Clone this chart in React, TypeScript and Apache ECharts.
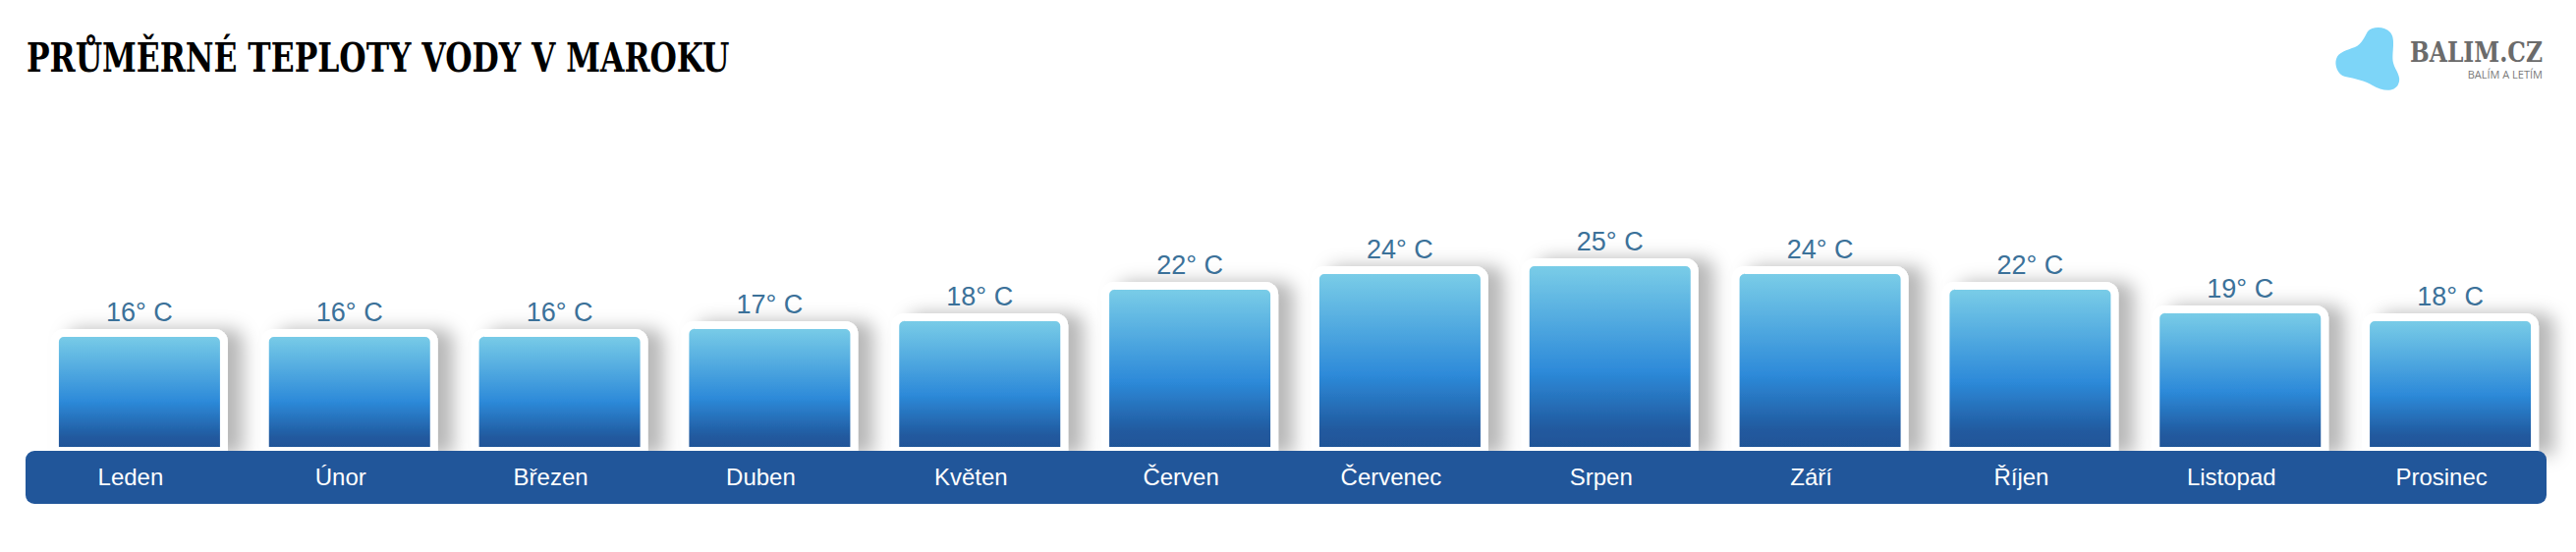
import React, { useEffect, useRef } from "react";
import * as echarts from "echarts";

// Average sea water temperature by month (°C)
const months = ["Leden", "Únor", "Březen", "Duben", "Květen", "Červen", "Červenec", "Srpen", "Září", "Říjen", "Listopad", "Prosinec"];
const temps = [16, 16, 16, 17, 18, 22, 24, 25, 24, 22, 19, 18];

const titleText = "PRŮMĚRNÉ TEPLOTY VODY V MAROKU";
const brandText = "BALIM.CZ";
const brandSub = "BALÍM A LETÍM";

// Brand blob mark
const blobPath =
  "M 33 4 C 37 -1, 50 -2, 56 5 C 62 12, 57 26, 59 36 C 61 44, 68 50, 64 58 " +
  "C 60 66, 48 65, 38 59 C 30 54, 20 52, 10 50 C 2 48, -1 38, 1 32 " +
  "C 3 25, 12 23, 20 20 C 27 17, 30 9, 33 4 Z";
echarts.graphic.registerShape("logo", (echarts.graphic as any).extendPath(blobPath, {}));

function measure(text: string, font: string): number {
  const ctx = document.createElement("canvas").getContext("2d");
  if (!ctx) return 0;
  ctx.font = font;
  return ctx.measureText(text).width;
}

export default function App() {
  const ref = useRef<HTMLDivElement>(null);

  useEffect(() => {
    document.body.style.margin = "0";
    if (!ref.current) return;
    const chart = echarts.init(ref.current, null, { renderer: "svg" });

    const titleFont = 'bold 41px "DejaVu Serif"';
    const titleW = measure(titleText, titleFont) || 716;
    const brandFont = 'bold 27px "DejaVu Serif"';
    const brandW = measure(brandText, brandFont) || 135;

    chart.setOption({
      animation: false,
      backgroundColor: "#ffffff",
      grid: { left: 35, right: 21, top: 63, bottom: 99 },
      xAxis: {
        type: "category",
        data: months,
        z: 20,
        axisLine: { show: false },
        axisTick: { show: false },
        axisLabel: {
          color: "#ffffff",
          fontSize: 24,
          fontFamily: "Liberation Sans, Arial, sans-serif",
          margin: 10,
          padding: [0, 18, 0, 0],
        },
      },
      yAxis: { type: "value", min: 0, max: 50, show: false },
      series: [
        {
          type: "bar",
          data: temps,
          barWidth: 180,
          z: 2,
          itemStyle: {
            color: new echarts.graphic.LinearGradient(0, 0, 0, 1, [
              { offset: 0, color: "#7ccfe8" },
              { offset: 0.58, color: "#2d8ad9" },
              { offset: 0.88, color: "#215a9f" },
              { offset: 1, color: "#1f5496" },
            ]),
            borderColor: "#ffffff",
            borderWidth: 8,
            borderRadius: [9, 9, 0, 0],
            shadowBlur: 18,
            shadowColor: "rgba(0,0,0,0.28)",
            shadowOffsetX: 16,
          },
          label: {
            show: true,
            position: "top",
            distance: 4,
            formatter: "{c}° C",
            color: "#3b7199",
            fontSize: 27,
            fontFamily: "Liberation Sans, Arial, sans-serif",
          },
        },
      ],
      graphic: [
        {
          type: "rect",
          z: 10,
          shape: { x: 26, y: 459, width: 2566, height: 54, r: 9 },
          style: { fill: "#21569a" },
        },
        {
          type: "text",
          z: 30,
          x: 27,
          y: 59,
          scaleX: 716 / titleW,
          style: {
            text: titleText,
            font: titleFont,
            fill: "#000000",
            verticalAlign: "middle",
            align: "left",
          },
        },
        {
          type: "logo",
          z: 30,
          x: 2377,
          y: 28,
          style: { fill: "#7dd5f8" },
        },
        {
          type: "text",
          z: 30,
          x: 2588,
          y: 53,
          scaleX: 135 / brandW,
          style: {
            text: brandText,
            font: brandFont,
            fill: "#6b6b6b",
            verticalAlign: "middle",
            align: "right",
          },
        },
        {
          type: "text",
          z: 30,
          x: 2588,
          y: 75,
          style: {
            text: brandSub,
            font: '11px "Open Sans", sans-serif',
            fill: "#7a7a7a",
            verticalAlign: "middle",
            align: "right",
          },
        },
      ],
    });

    return () => chart.dispose();
  }, []);

  return <div ref={ref} style={{ width: 2622, height: 562 }} />;
}
